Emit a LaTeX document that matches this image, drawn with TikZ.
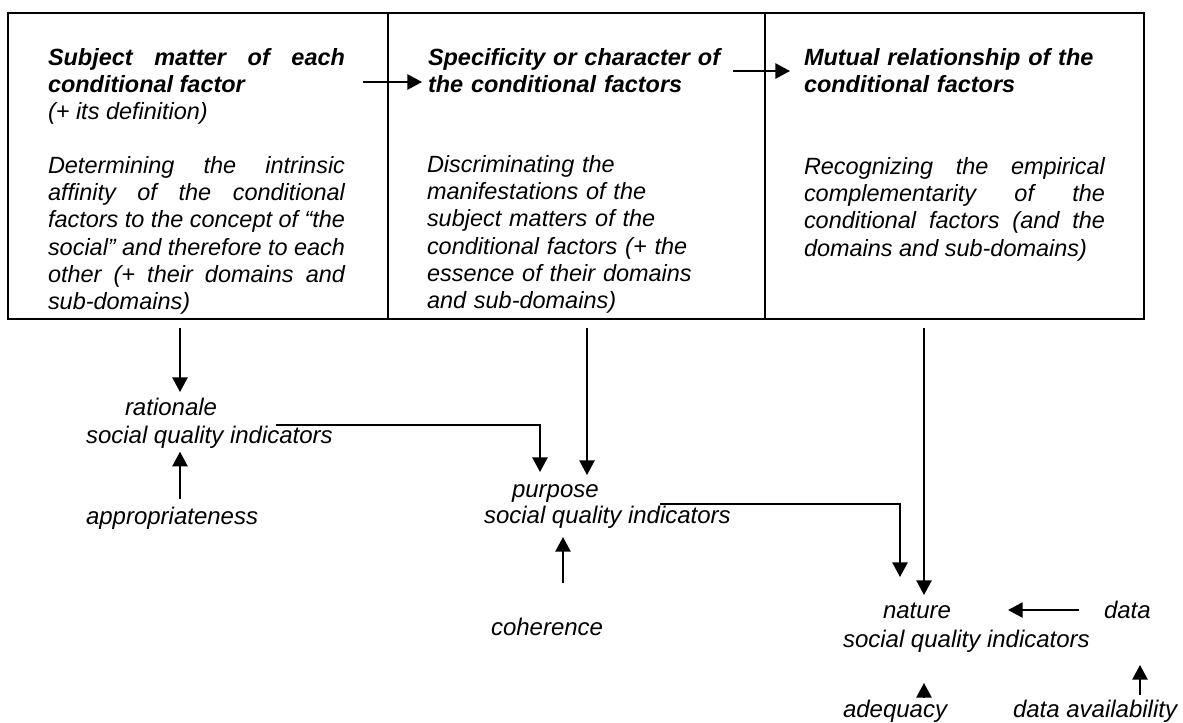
\documentclass[tikz,border=0pt]{standalone}
\usepackage{fontspec}
\setmainfont{Liberation Sans}
\usetikzlibrary{arrows.meta}
\begin{document}
\begin{tikzpicture}[x=0.75pt,y=-0.75pt,
  every node/.style={inner sep=0pt,outer sep=0pt},
  txt/.style={font=\fontsize{18pt}{20.4pt}\selectfont\itshape, anchor=base west},
  boxtxt/.style={font=\fontsize{17.6pt}{20.4pt}\selectfont\itshape, anchor=base west},
  lbl/.style={txt, text height=12.75pt, text depth=3.75pt},
  arr/.style={line width=1.2pt, -{Triangle[length=11pt,width=11.5pt]}},
  frame/.style={line width=1.5pt}]
\useasboundingbox (0,0) rectangle (1183,722);
% frames
\draw[frame] (8,13) rectangle (388,319);
\draw[frame] (388,13) rectangle (765,319);
\draw[frame] (765,13) rectangle (1144,319);
% box texts
\node[boxtxt, text width=222.75pt, align=justify] (h1) at (48,65.5)
  {\textbf{Subject matter of each\linebreak conditional factor}\\(+ its definition)};
\node[boxtxt, text width=222.75pt, align=justify] (d1) at (48,173.5)
  {Determining the intrinsic\linebreak affinity of the conditional\linebreak factors to the concept of “the\linebreak social” and therefore to each\linebreak other (+ their domains and\linebreak sub-domains)};
\node[boxtxt, text width=250pt, align=left] (h2) at (428,65)
  {\textbf{Specificity or character of}\\\textbf{the conditional factors}};
\node[boxtxt, text width=250pt, align=left] (d2) at (427,172.5)
  {Discriminating the\\manifestations of the\\subject matters of the\\conditional factors (+ the\\essence of their domains\\and sub-domains)};
\node[boxtxt, text width=250pt, align=left] (h3) at (804,65)
  {\textbf{Mutual relationship of the}\\\textbf{conditional factors}};
\node[boxtxt, text width=225.75pt, align=justify] (d3) at (804,174.5)
  {Recognizing the empirical\linebreak complementarity of the\linebreak conditional factors (and the\linebreak domains and sub-domains)};
% lower labels
\node[lbl] (rat) at (125,415) {rationale};
\node[lbl] (sq1) at (86,443) {social quality indicators};
\node[lbl] (appr) at (86,524) {appropriateness};
\node[lbl] (pur) at (512,497) {purpose};
\node[lbl] (sq2) at (484,523) {social quality indicators};
\node[lbl] (coh) at (491,635) {coherence};
\node[lbl] (nat) at (883,618) {nature};
\node[lbl] (sq3) at (843,647) {social quality indicators};
\node[lbl] (dat) at (1104,618) {data};
\node[lbl] (adq) at (843,717) {adequacy};
\node[lbl] (dav) at (1013,717) {data availability};
% coordinates
\coordinate (a1) at (363,82);
\coordinate (a2) at (733,71);
\coordinate (b1s) at (180,328);
\coordinate (b2s) at (587,328);
\coordinate (b3s) at (924,328);
\coordinate (r1) at (276,425);
\coordinate (k1) at (540,425);
\coordinate (r2) at (660,504);
\coordinate (k2) at (900,504);
\coordinate (cx) at (563,0);
\coordinate (dx) at (1140,0);
\coordinate (dy) at (0,610);
% connectors
\draw[arr, shorten >=4.5pt] (a1) -- (a1 -| h2.west);
\draw[arr, shorten >=10.5pt] (a2) -- (a2 -| h3.west);
\draw[arr, shorten >=4.5pt] (b1s) -- (b1s |- rat.north);
\draw[arr, shorten <=6pt, shorten >=2.8pt] (appr.north -| b1s) -- (sq1.south -| b1s);
\draw[arr, shorten >=6pt] (r1) -- (k1) -- (k1 |- pur.north);
\draw[arr, shorten >=3.75pt] (b2s) -- (b2s |- pur.north);
\draw[arr, shorten <=26.25pt, shorten >=6.75pt] (coh.north -| cx) -- (sq2.south -| cx);
\draw[arr, shorten >=18pt] (r2) -- (k2) -- (k2 |- nat.north);
\draw[arr, shorten >=4.5pt] (b3s) -- (b3s |- nat.north);
\draw[arr, shorten <=18.75pt, shorten >=42.75pt] (dat.west |- dy) -- (nat.east |- dy);
\draw[arr, shorten <=3.75pt, shorten >=31.5pt] (dav.north -| dx) -- (dat.south -| dx);
\draw[arr, shorten <=2.25pt, shorten >=23.25pt] (adq.north -| b3s) -- (sq3.south -| b3s);
\end{tikzpicture}
\end{document}
